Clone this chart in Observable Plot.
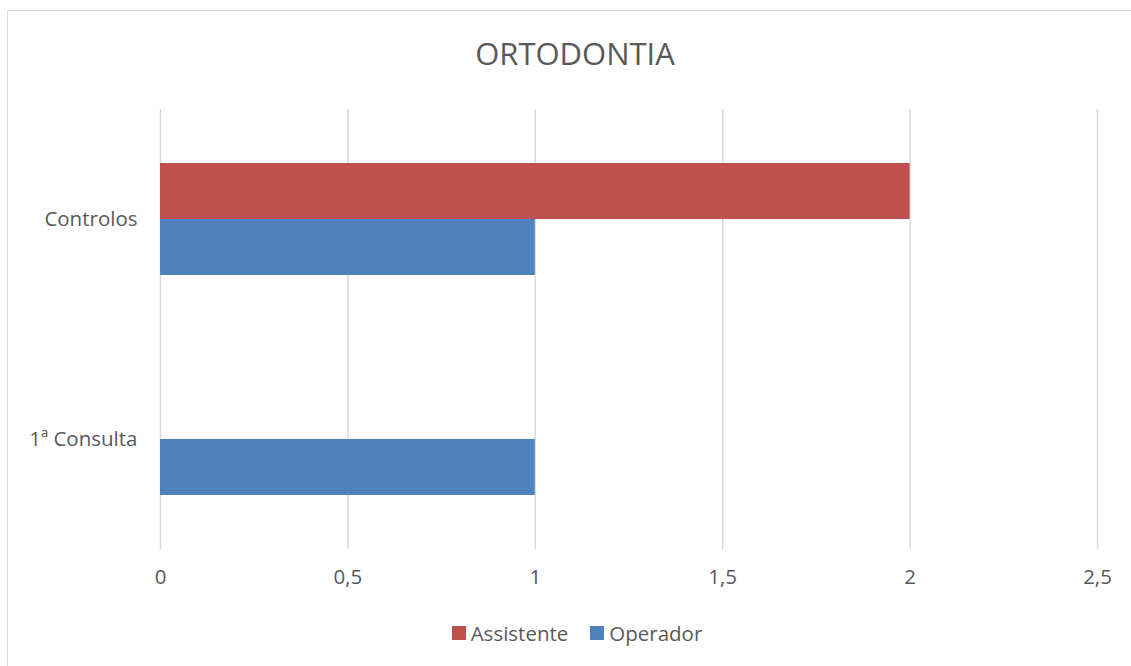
<!DOCTYPE html>
<html>
<head>
<meta charset="utf-8">
<script src="https://cdn.jsdelivr.net/npm/d3@7"></script>
<script src="https://cdn.jsdelivr.net/npm/@observablehq/plot@0.6"></script>
<style>
  html, body { margin: 0; padding: 0; background: #fff; width: 1131px; height: 666px; overflow: hidden; }
  body { font-family: "Open Sans", Lato, sans-serif; color: #595959; position: relative; }
  #frame { position: absolute; left: 7px; top: 10px; width: 1136px; height: 680px; border: 1.5px solid #D9D9D9; box-sizing: border-box; }
  #title { position: absolute; left: 7px; width: 1136px; top: 31px; line-height: 44px; text-align: center; font-size: 31px; font-weight: 400; color: #595959; }
  #chart { position: absolute; left: 0; top: 90px; }
  #legend { position: absolute; left: 0; width: 1154px; top: 619px; line-height: 28px; display: flex; justify-content: center; gap: 22px; font-size: 20.5px; color: #595959; }
  .item { display: flex; align-items: center; gap: 5px; }
  .sw { width: 14px; height: 14px; display: inline-block; }
</style>
</head>
<body>
<div id="frame"></div>
<div id="title">ORTODONTIA</div>
<div id="chart"></div>
<div id="legend"></div>
<script>
const categories = ["Controlos", "1ª Consulta"];
const seriesNames = ["Assistente", "Operador"];
const seriesColors = ["#C0504D", "#4F81BD"];
const assistente = [2, 0];
const operador = [1, 1];
const xTicks = [0, 0.5, 1, 1.5, 2, 2.5];

const rows = [];
categories.forEach((c, i) => {
  rows.push({category: c, series: "Assistente", value: assistente[i]});
  rows.push({category: c, series: "Operador", value: operador[i]});
});

const fmt = d => String(d).replace(".", ",");

const chart = Plot.plot({
  width: 1131,
  height: 519,
  marginLeft: 160,
  marginRight: 34,
  marginTop: 19,
  marginBottom: 60,
  style: {fontFamily: "'Open Sans', Lato, sans-serif", fontSize: "20.5px", color: "#595959", background: "transparent"},
  x: {domain: [0, 2.5], ticks: xTicks, tickFormat: fmt, tickSize: 0, tickPadding: 20, label: null},
  fy: {domain: categories, padding: 0, label: null},
  y: {domain: seriesNames, paddingInner: 0, paddingOuter: 0.93, axis: null},
  color: {domain: seriesNames, range: seriesColors},
  marks: [
    Plot.ruleX(xTicks, {stroke: "#D9D9D9", strokeWidth: 1.5, strokeOpacity: 1}),
    Plot.barX(rows, {fy: "category", y: "series", x: "value", fill: "series"}),
    Plot.axisX({ticks: xTicks, tickFormat: fmt, tickSize: 0, tickPadding: 20, label: null, fill: "#595959", fontSize: 20.5, facetAnchor: "bottom"}),
    Plot.axisFy({anchor: "left", tickSize: 0, tickPadding: 23, label: null, fill: "#595959", fontSize: 20.5})
  ]
});
document.getElementById("chart").appendChild(chart);

const legend = document.getElementById("legend");
seriesNames.forEach((s, i) => {
  const it = document.createElement("div");
  it.className = "item";
  const sw = document.createElement("span");
  sw.className = "sw";
  sw.style.background = seriesColors[i];
  const tx = document.createElement("span");
  tx.textContent = s;
  it.appendChild(sw);
  it.appendChild(tx);
  legend.appendChild(it);
});
</script>
</body>
</html>
